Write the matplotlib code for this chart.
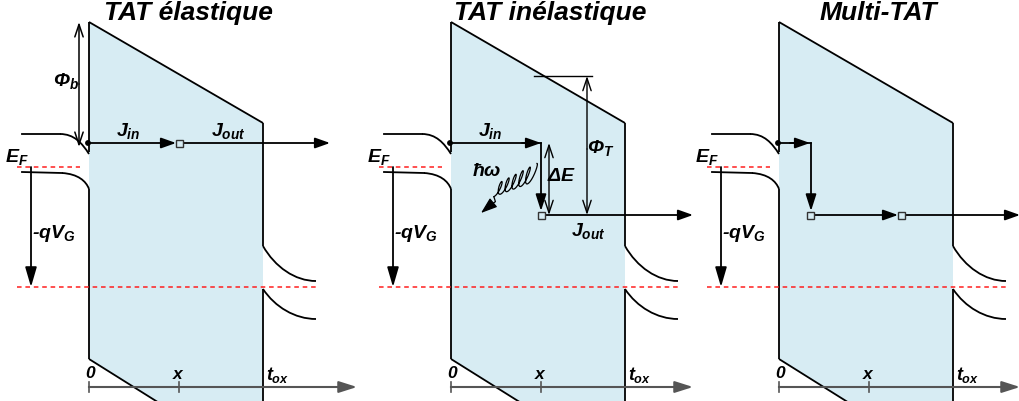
import numpy as np
import matplotlib.pyplot as plt
from matplotlib.patches import Polygon, FancyArrowPatch, Rectangle, PathPatch, Circle
from matplotlib.path import Path

plt.rcParams['font.family'] = ['Liberation Sans', 'DejaVu Sans']
plt.rcParams['mathtext.fontset'] = 'custom'
for k in ['mathtext.it', 'mathtext.rm', 'mathtext.bf', 'mathtext.sf']:
    plt.rcParams[k] = 'Liberation Sans:italic:bold'

# panels (pixel space, y down), local coords are shifted by the offset
titles = ['TAT élastique', 'TAT inélastique', 'Multi-TAT']
offsets = [0, 362, 690]
axis_end = [357, 331, 330]
exit_end = [330, 331, 330]

# oxide barrier outline
ox_x = [89, 263, 263, 89]
ox_y = [23, 124, 469, 360]
x_left, x_right = 89, 263
gap_left = (153, 190)
gap_right = (247, 290)

# energy levels
y_ef = 168
y_gate = 288
y_inj = 144
y_trap = 216

# panel-specific points
traps = [[(180, 144)], [(180, 216)], [(121, 216), (212, 216)]]
phiT_top = 77
phiT_x = 225

# phonon coil (panel 2)
coil_start = (172, 174)
coil_end = (134, 191)
coil_loops = 5
coil_amp = (10, 7)

fill_col = '#d7ecf3'
red = '#ff1f1f'
lw = 1.3

fig = plt.figure(figsize=(10.2, 4.02), dpi=100)
ax = fig.add_axes([0, 0, 1, 1])
ax.set_xlim(0, 1020)
ax.set_ylim(402, 0)
ax.axis('off')


def arrow(p0, p1, style='-|>', hl=0.9, hw=0.32, color='black', lwid=lw):
    st = style + ',head_length=%g,head_width=%g' % (hl, hw)
    a = FancyArrowPatch(p0, p1, arrowstyle=st, mutation_scale=10, color=color,
                        lw=lwid, shrinkA=0, shrinkB=0, zorder=5)
    ax.add_patch(a)


def lab(x, y, s, size=14, ha='center'):
    ax.text(x, y, s, fontsize=size, ha=ha, va='center', fontweight='bold',
            fontstyle='italic', zorder=6)


def bez(pts, **kw):
    codes = [Path.MOVETO] + [Path.CURVE4] * (len(pts) - 1)
    ax.add_patch(PathPatch(Path(pts, codes), fill=False, **kw))


for i, off in enumerate(offsets):
    X = lambda v: v + off
    # oxide fill
    ax.add_patch(Polygon([(X(a), b) for a, b in zip(ox_x, ox_y)], closed=True,
                         facecolor=fill_col, edgecolor='none', zorder=1))
    # outline
    segs = [((ox_x[0], ox_y[0]), (ox_x[1], ox_y[1])),
            ((x_left, ox_y[0]), (x_left, gap_left[0])),
            ((x_left, gap_left[1]), (x_left, ox_y[3])),
            ((ox_x[3], ox_y[3]), (ox_x[2], ox_y[2])),
            ((x_right, ox_y[1]), (x_right, gap_right[0])),
            ((x_right, gap_right[1]), (x_right, ox_y[2]))]
    for (a, b), (c, d) in segs:
        ax.plot([X(a), X(c)], [b, d], color='black', lw=lw, zorder=3,
                solid_capstyle='butt')
    # left electrode bands
    ax.plot([X(22), X(60)], [135, 135], color='black', lw=lw, zorder=3)
    bez([(X(60), 135), (X(74), 135), (X(82), 144), (X(89), 155)], color='black', lw=lw, zorder=3)
    ax.plot([X(22), X(62)], [173, 174], color='black', lw=lw, zorder=3)
    bez([(X(62), 174), (X(78), 175), (X(86), 182), (X(89), 190)], color='black', lw=lw, zorder=3)
    # right electrode bands
    bez([(X(263), 247), (X(275), 268), (X(295), 282), (X(316), 282)], color='black', lw=lw, zorder=3)
    bez([(X(263), 290), (X(275), 308), (X(295), 320), (X(316), 320)], color='black', lw=lw, zorder=3)
    # fermi levels
    ax.plot([X(17), X(80)], [y_ef, y_ef], color=red, lw=1.1, dashes=(3, 2.5), zorder=4)
    ax.plot([X(17), X(316)], [y_gate, y_gate], color=red, lw=1.1, dashes=(3, 2.5), zorder=4)
    arrow((X(31), y_ef), (X(31), y_gate), hl=1.2, hw=0.35)
    lab(X(17), 157, r'$E_F$')
    lab(X(54), 234, r'-q$V_G$')
    # x axis
    ax.plot([X(89), X(axis_end[i]) - 5], [388, 388], color='#555555', lw=1.5, zorder=3)
    arrow((X(axis_end[i]) - 12, 388), (X(axis_end[i]), 388), color='#555555', hl=1.1, hw=0.35, lwid=1.5)
    for tx in [89, 179]:
        ax.plot([X(tx), X(tx)], [383, 393], color='#555555', lw=1.2, zorder=3)
    lab(X(91), 373, r'$0$', size=12.5)
    lab(X(179), 375, r'$x$', size=12.5)
    lab(X(266), 375, r'$t_{ox}$', size=13, ha='left')
    # title
    ax.text(X(188), 13, titles[i], fontsize=19, ha='center', va='center',
            fontweight='bold', fontstyle='italic', zorder=6)
    # injection dot
    ax.add_patch(Circle((X(88), y_inj), 2.2, color='black', zorder=6))

    sq = 7
    for tx, ty in traps[i]:
        ax.add_patch(Rectangle((X(tx) - sq / 2, ty - sq / 2), sq, sq, facecolor=fill_col,
                               edgecolor='#333333', lw=1.0, zorder=7))

# panel 1: elastic
arrow((89, y_inj), (176, y_inj))
arrow((184, y_inj), (exit_end[0], y_inj))
arrow((79, 85), (79, 23), style='->', hl=0.9, hw=0.3, lwid=1.1)
arrow((79, 85), (79, 148), style='->', hl=0.9, hw=0.3, lwid=1.1)
lab(66, 81, r'$\Phi_b$')
lab(128, 131, r'$J_{in}$')
lab(228, 131, r'$J_{out}$')

# panel 2: inelastic
off = offsets[1]
ax.plot([off + 89, off + 179], [y_inj, y_inj], color='black', lw=lw, zorder=5)
arrow((off + 160, y_inj), (off + 179, y_inj))
arrow((off + 179, y_inj), (off + 179, y_trap - 4), hl=1.0, hw=0.32)
arrow((off + 187, 180), (off + 187, y_inj), style='->', hl=0.9, hw=0.3, lwid=1.0)
arrow((off + 187, 180), (off + 187, y_trap), style='->', hl=0.9, hw=0.3, lwid=1.0)
arrow((off + 184, y_trap), (off + exit_end[1], y_trap))
ax.plot([off + 172, off + 230], [phiT_top, phiT_top], color='black', lw=1.0, zorder=5)
arrow((off + phiT_x, 150), (off + phiT_x, phiT_top), style='->', hl=0.9, hw=0.3, lwid=1.0)
arrow((off + phiT_x, 150), (off + phiT_x, y_trap), style='->', hl=0.9, hw=0.3, lwid=1.0)
lab(off + 128, 131, r'$J_{in}$')
lab(off + 226, 231, r'$J_{out}$')
lab(off + 200, 177, r'$\Delta E$')
lab(off + 239, 148, r'$\Phi_T$')
lab(off + 125, 172, r'$\hbar\omega$')

# phonon coil: loops strung along the coil axis, shrinking to the left
p0 = np.array([off + coil_start[0], coil_start[1]], dtype=float)
p1 = np.array([off + coil_end[0], coil_end[1]], dtype=float)
d = p1 - p0
L = np.hypot(*d)
e_u = d / L
e_w = np.array([0.3, -0.95])
e_w = e_w / np.hypot(*e_w)
s = np.linspace(0, 1, 900)
phi = 2 * np.pi * (coil_loops + 0.5) * s
amp = coil_amp[0] + (coil_amp[1] - coil_amp[0]) * s
u = L * s - 3.0 * np.sin(phi)
v = amp * np.cos(phi)
pts = p0[None, :] + u[:, None] * e_u[None, :] + v[:, None] * e_w[None, :]
ax.plot(pts[:, 0], pts[:, 1], color='black', lw=0.9, zorder=5)
tail_x = [pts[-1, 0], pts[-1, 0] + 1.5, off + 129]
tail_y = [pts[-1, 1], pts[-1, 1] + 5, pts[-1, 1] + 8]
ax.plot(tail_x, tail_y, color='black', lw=0.9, zorder=5)
arrow((off + 129, pts[-1, 1] + 8), (off + 119, 214), hl=1.0, hw=0.35, lwid=0.9)

# panel 3: multi-trap
off = offsets[2]
ax.plot([off + 89, off + 121], [y_inj, y_inj], color='black', lw=lw, zorder=5)
arrow((off + 100, y_inj), (off + 120, y_inj))
arrow((off + 121, y_inj), (off + 121, y_trap - 4), hl=1.0, hw=0.32)
arrow((off + 125, y_trap), (off + 208, y_trap))
arrow((off + 216, y_trap), (off + exit_end[2], y_trap))

fig.savefig('out.png', dpi=100)
